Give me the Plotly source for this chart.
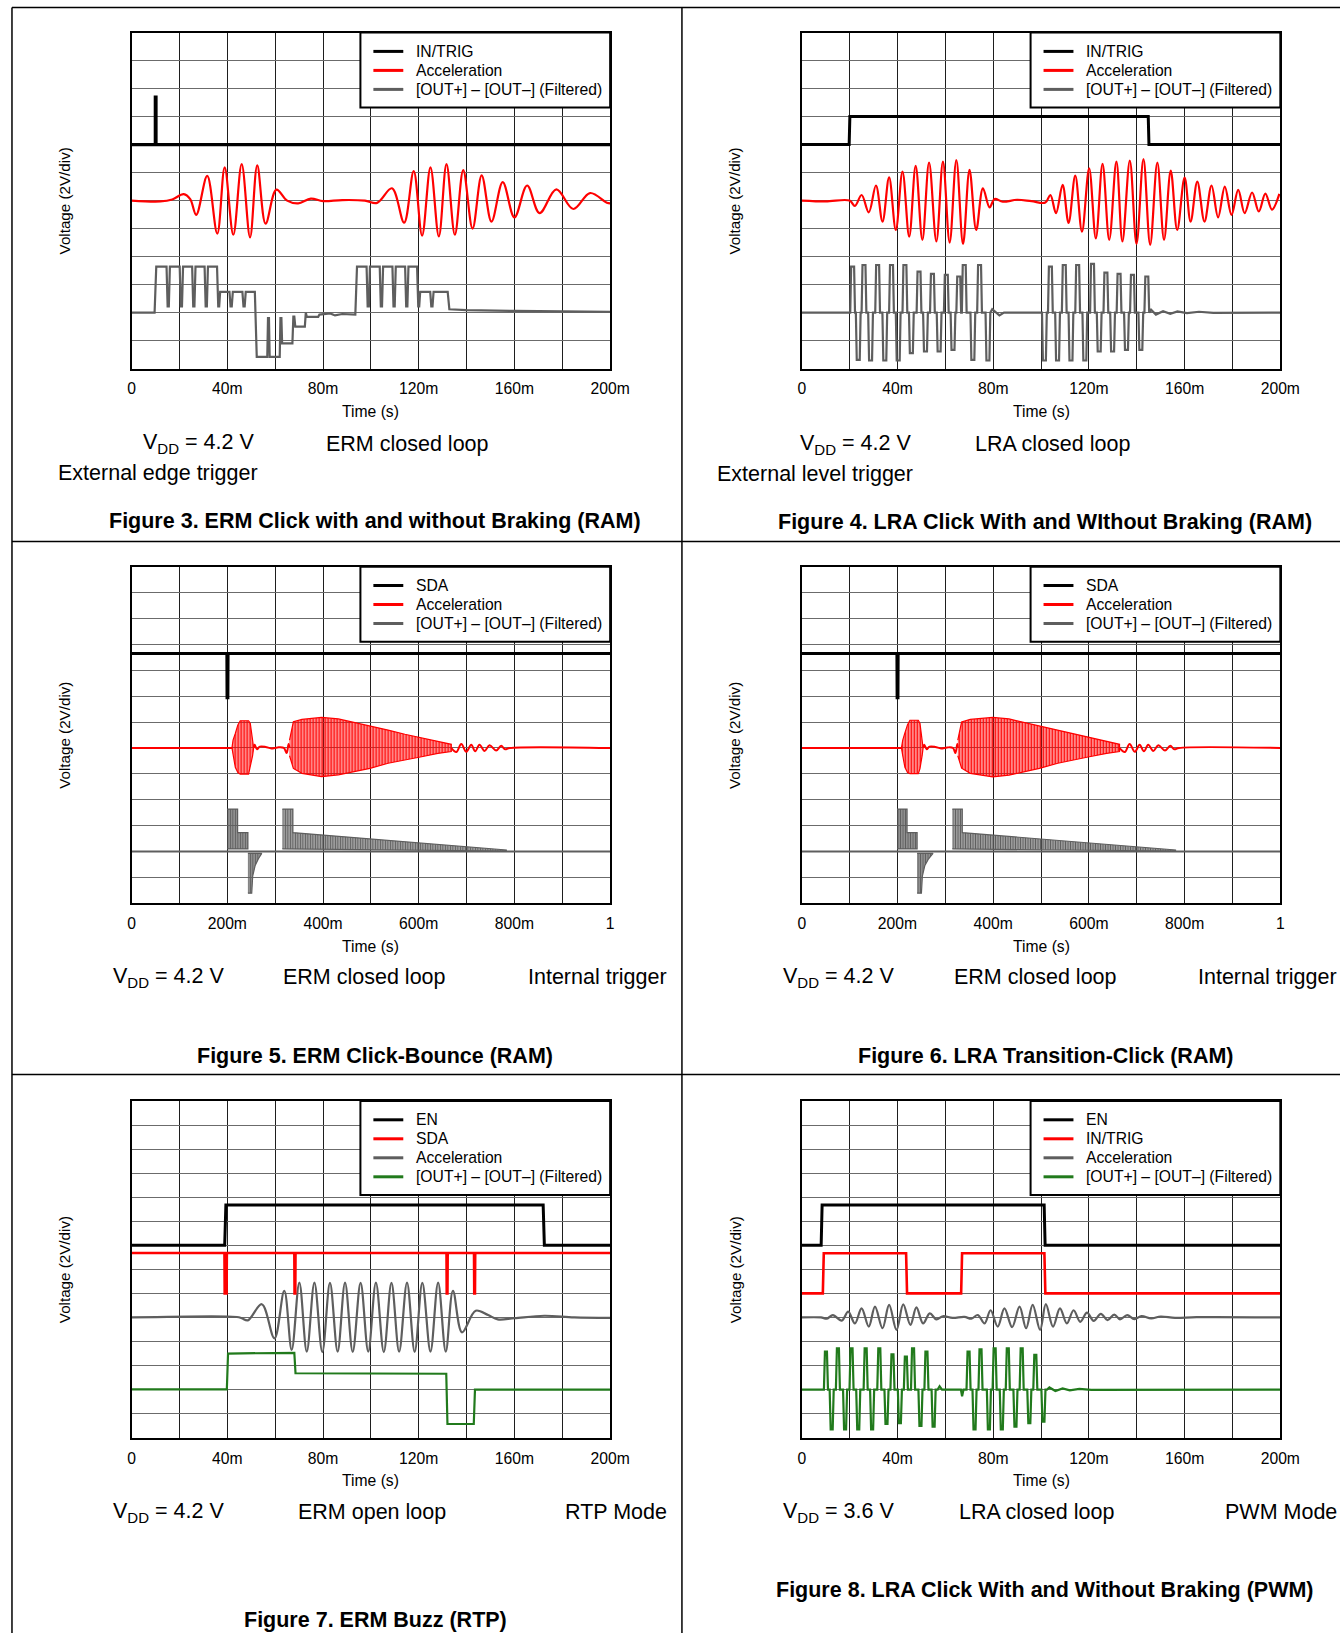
import plotly.graph_objects as go

W, H = 1340, 1633
# measured horizontal frame of the photographed page: drawn x = 1.5 + 0.985 * paper_px
X_OFF, X_SPAN = 1.5, 1320.0
FONT = "Liberation Sans, Arial, Helvetica, sans-serif"
BLACK, RED, GRAY, GREEN = "#000000", "#ff0000", "#5e5e5e", "#217a1c"

# ---------------- tick labels ----------------
ms200_tickvals = [0, 20, 40, 60, 80, 100, 120, 140, 160, 180, 200]
ms200_ticktext = ["0", "", "40m", "", "80m", "", "120m", "", "160m", "", "200m"]
s1_tickvals = [0, 100, 200, 300, 400, 500, 600, 700, 800, 900, 1000]
s1_ticktext = ["0", "", "200m", "", "400m", "", "600m", "", "800m", "", "1"]

# ---------------- Figure 3 (time in ms, level in divisions) ----------------
f3_trig_t = [0, 9.9, 9.9, 10.2, 10.2, 200]
f3_trig_v = [8.0, 8.0, 9.7, 9.7, 8.0, 8.0]
f3_acc_t = [0, 12, 17, 21.8, 24.5, 27, 31.6, 35.8, 38.9, 42.5, 46, 49.5, 52.5, 56, 60.5, 65, 69.6, 74.9,
            80, 88, 97.5, 102.6, 108.8, 113.9, 117.9, 121.4, 124.9, 128.4, 131.6, 135.1, 138.6, 142.5,
            146.3, 150.4, 155.1, 160, 165.3, 170.5, 177.5, 184.6, 191.6, 198.6, 200]
f3_acc_v = [6.0, 5.97, 6.04, 6.23, 6.05, 5.49, 6.88, 4.82, 7.19, 4.78, 7.3, 4.69, 7.26, 5.18, 6.39, 6.0, 5.9, 6.07,
            5.98, 6.02, 6.0, 5.92, 6.44, 5.21, 7.05, 4.75, 7.19, 4.72, 7.3, 4.78, 7.09, 5.0,
            6.9, 5.25, 6.66, 5.4, 6.54, 5.55, 6.4, 5.7, 6.27, 5.92, 5.9]
f3_out_t = [0, 9.6, 10.3,
            14.6, 15.05, 15.55, 16.0, 20.1, 20.55, 21.05, 21.5, 25.3, 25.75, 26.25, 26.7, 30.5, 30.95, 31.45, 31.9,
            35.7, 36.2, 36.6, 37.0, 40.9, 41.35, 41.85, 42.3, 46.3, 46.75, 47.25, 47.7,
            51.5, 52.3, 56.7, 57.0, 57.4, 57.7, 61.9, 62.2, 62.6, 62.9, 67.2, 67.6, 68.0, 68.4,
            72.4, 72.8, 73.2, 78.0, 78.5, 83.0, 85.0, 88.0, 93.5, 94.2,
            98.2, 98.65, 99.15, 99.6, 103.7, 104.15, 104.65, 105.1, 109.0, 109.45, 109.95, 110.4,
            114.3, 114.75, 115.25, 115.7, 119.3, 119.8, 120.2, 120.6, 124.8, 125.25, 125.75, 126.2,
            132.1, 132.8, 140.0, 160.0, 200.0]
f3_out_v = [2.0, 2.0, 3.64,
            3.64, 2.22, 2.22, 3.64, 3.64, 2.22, 2.22, 3.64, 3.64, 2.22, 2.22, 3.64, 3.64, 2.22, 2.22, 3.64,
            3.64, 2.22, 2.22, 2.74, 2.74, 2.22, 2.22, 2.74, 2.74, 2.22, 2.22, 2.74,
            2.74, 0.42, 0.42, 1.8, 1.8, 0.42, 0.42, 1.8, 1.8, 0.9, 0.9, 1.86, 1.86, 1.5,
            1.5, 2.0, 1.85, 1.85, 1.93, 1.97, 1.9, 1.95, 1.93, 3.64,
            3.64, 2.22, 2.22, 3.64, 3.64, 2.22, 2.22, 3.64, 3.64, 2.22, 2.22, 3.64,
            3.64, 2.22, 2.22, 3.64, 3.64, 2.22, 2.22, 2.74, 2.74, 2.22, 2.22, 2.74,
            2.74, 2.12, 2.09, 2.06, 2.03]

# ---------------- Figure 4 ----------------
f4_trig_t = [0, 19.8, 20.1, 144.8, 145.1, 200]
f4_trig_v = [8.0, 8.0, 9.0, 9.0, 8.0, 8.0]
f4_acc_t = [0, 10, 20, 22.2, 25, 28, 31, 33.75, 36.5, 39.3, 42.1, 44.9, 47.6, 50.4, 53.2, 56.25, 59, 61.8,
            64.6, 67.4, 70.1, 72.9, 75.7, 78.5, 80.6, 84, 90, 96, 101.8, 103.9, 106.25, 109, 111.5, 114.3,
            117.1, 120.1, 122.9, 125.7, 128.5, 131.5, 134, 137.1, 139.9, 142.8, 145.6, 148.6, 151.4, 154.2,
            156.9, 160, 162.5, 165.3, 168.3, 171.25, 174, 176.8, 179.6, 182.4, 185.1, 188.2, 191, 193.75,
            196.5, 199.6]
f4_acc_v = [6.0, 5.97, 6.0, 5.81, 6.2, 5.58, 6.54, 5.25, 6.83, 4.95, 7.04, 4.71, 7.24, 4.6, 7.36, 4.54, 7.39, 4.5,
            7.45, 4.45, 7.1, 4.95, 6.44, 5.76, 6.06, 5.96, 6.03, 5.98, 5.93, 6.2, 5.55, 6.56, 5.2, 6.89,
            4.89, 7.15, 4.65, 7.31, 4.6, 7.39, 4.54, 7.43, 4.45, 7.48, 4.42, 7.36, 4.6, 7.07,
            4.95, 6.82, 5.25, 6.68, 5.25, 6.54, 5.4, 6.5, 5.49, 6.38, 5.55, 6.29, 5.61, 6.25,
            5.68, 6.24]
f4_out_base_t = [0, 79.6, 82.6, 84.5, 100.3, 146, 148, 151, 154, 157, 161, 166, 172, 200]
f4_out_base_v = [2.0, 2.12, 1.9, 2.0, 2.0, 2.1, 1.93, 2.05, 1.96, 2.04, 1.98, 2.03, 1.99, 2.0]
f4_out_pulse_t = [21.25, 23.6, 26.0, 28.75, 31.7, 34.7, 37.5, 40.3, 43.1, 45.8, 49.0, 51.7, 54.6, 57.4, 60.4,
                  63.2, 65.6, 67.9, 71.5, 74.3, 77.8,
                  101.4, 103.9, 106.9, 109.7, 112.5, 115.3, 118.3, 121.5, 124.3, 127.1, 129.9, 132.6, 135.7,
                  138.2, 141.7, 144.2]
f4_out_pulse_v = [3.64, 0.31, 3.7, 0.29, 3.7, 0.29, 3.7, 0.29, 3.7, 0.55, 3.46, 0.61, 3.38, 0.61, 3.35,
                  0.67, 3.29, 3.7, 0.31, 3.7, 0.29,
                  0.29, 3.64, 0.29, 3.7, 0.29, 3.7, 0.29, 3.74, 0.61, 3.43, 0.61, 3.38, 0.67,
                  3.35, 0.67, 3.29]

# ---------------- Figure 5 ----------------
f5_sda_t = [0, 199.0, 199.4, 201.2, 201.6, 1000]
f5_sda_v = [9.65, 9.65, 7.94, 7.94, 9.65, 9.65]
f5_acc_t = [0, 209.7, None, 255, 257, 262, 268, 280, 292, 305, 318, 324, 328, 330, None,
            668, 678.5, 688.9, 699.3, 709.7, 718, 727, 737.5, 747.9, 761.8, 772.2, 780.6, 790, 1000]
f5_acc_v = [6.0, 6.0, None, 6.0, 6.12, 5.95, 6.05, 6.04, 5.98, 6.02, 6.0, 5.8, 6.15, 6.0, None,
            6.0, 5.84, 6.15, 5.85, 6.12, 5.87, 6.12, 5.88, 6.1, 5.9, 6.08, 5.95, 6.0, 6.0]
f5_burst1_t = [209.7, 212, 216.7, 222, 227, 244.4, 248, 252.8, 255]
f5_burst1_top = [6.0, 6.3, 6.56, 6.89, 7.05, 7.05, 6.95, 6.24, 6.0]
f5_burst1_bot = [6.0, 5.7, 5.25, 5.05, 4.99, 4.99, 5.2, 5.7, 6.0]
f5_burst2_t = [330, 338, 356, 397, 432, 467, 498, 536, 571, 606, 640, 668]
f5_burst2_top = [6.3, 7.01, 7.1, 7.18, 7.12, 6.98, 6.86, 6.69, 6.53, 6.4, 6.27, 6.14]
f5_burst2_bot = [5.7, 5.21, 5.02, 4.89, 4.96, 5.08, 5.21, 5.41, 5.53, 5.66, 5.79, 5.86]
f5_out_t = [0, 1000]
f5_out_v = [2.0, 2.0]
f5_outa_t = [200, 221.5, 221.5, 243]
f5_outa_top = [3.64, 3.64, 2.73, 2.73]
f5_outa_bot = [2.1, 2.1, 2.1, 2.1]
f5_outb_t = [243, 251, 253, 258, 265, 272]
f5_outb_top = [1.93, 1.93, 1.93, 1.93, 1.93, 1.93]
f5_outb_bot = [0.39, 0.39, 1.05, 1.45, 1.72, 1.93]
f5_outc_t = [315, 337, 337, 783]
f5_outc_top = [3.64, 3.64, 2.73, 2.06]
f5_outc_bot = [2.1, 2.1, 2.1, 2.02]

# ---------------- Figure 6 ----------------
f6_sda_t = [0, 198.8, 199.2, 201.0, 201.4, 1000]
f6_sda_v = [9.65, 9.65, 7.94, 7.94, 9.65, 9.65]
f6_acc_t = [0, 208.3, None, 253.5, 256, 261, 267, 279, 291, 304, 316, 321, 325, 326, None,
            664, 675, 685, 696, 706, 715, 724, 734.5, 745, 759, 770, 778.6, 788, 1000]
f6_acc_v = [6.0, 6.0, None, 6.0, 6.12, 5.95, 6.05, 6.04, 5.98, 6.02, 6.0, 5.8, 6.15, 6.0, None,
            6.0, 5.84, 6.15, 5.85, 6.12, 5.87, 6.12, 5.88, 6.1, 5.9, 6.08, 5.95, 6.0, 6.0]
f6_burst1_t = [208.3, 211, 215.5, 221, 226, 243.5, 247, 251.5, 253.5]
f6_burst1_top = [6.0, 6.3, 6.58, 6.9, 7.07, 7.07, 6.95, 6.25, 6.0]
f6_burst1_bot = [6.0, 5.7, 5.25, 5.05, 5.01, 5.01, 5.2, 5.7, 6.0]
f6_burst2_t = [326, 334, 352, 399, 433, 466, 496.5, 535, 570, 601, 637, 664]
f6_burst2_top = [6.3, 7.0, 7.1, 7.18, 7.12, 6.98, 6.86, 6.69, 6.53, 6.4, 6.27, 6.14]
f6_burst2_bot = [5.7, 5.22, 5.02, 4.88, 4.95, 5.08, 5.21, 5.41, 5.53, 5.66, 5.79, 5.86]
f6_out_t = [0, 1000]
f6_out_v = [2.0, 2.0]
f6_outa_t = [199.3, 220, 220, 241]
f6_outa_top = [3.64, 3.64, 2.73, 2.73]
f6_outa_bot = [2.1, 2.1, 2.1, 2.1]
f6_outb_t = [241, 250, 252, 257, 265, 274.3]
f6_outb_top = [1.93, 1.93, 1.93, 1.93, 1.93, 1.93]
f6_outb_bot = [0.39, 0.39, 1.05, 1.45, 1.72, 1.93]
f6_outc_t = [314.6, 335.4, 335.4, 781]
f6_outc_top = [3.64, 3.64, 2.73, 2.06]
f6_outc_bot = [2.1, 2.1, 2.1, 2.02]

# ---------------- Figure 7 ----------------
f7_en_t = [0, 38.9, 39.4, 172.0, 172.5, 200]
f7_en_v = [8.0, 8.0, 9.68, 9.68, 8.0, 8.0]
f7_sda_t = [0, 38.8, 38.9, 39.7, 39.8, 68.0, 68.1, 68.4, 68.5, 131.6, 131.7, 132.0, 132.1,
            143.1, 143.2, 143.5, 143.6, 200]
f7_sda_v = [7.68, 7.68, 6.0, 6.0, 7.68, 7.68, 6.0, 6.0, 7.68, 7.68, 6.0, 6.0, 7.68,
            7.68, 6.0, 6.0, 7.68, 7.68]
f7_acc_t = [0, 44, 46, 48.6, 54.4, 59.7, 63.8, 66.9, 70.1, 73.2, 76.4, 79.7, 82.9, 86.1, 89.2, 92.4, 95.7,
            98.9, 102.1, 105.4, 108.6, 111.8, 115.1, 118.3, 121.5, 124.9, 128.1, 131.3, 134.3, 138.1,
            143.8, 149, 153, 160, 172.5, 185, 200]
f7_acc_v = [5.0, 5.02, 4.97, 4.88, 5.55, 4.13, 6.11, 3.65, 6.45, 3.58, 6.45, 3.56, 6.44, 3.58, 6.45, 3.57, 6.44,
            3.58, 6.45, 3.56, 6.44, 3.58, 6.45, 3.57, 6.44, 3.58, 6.45, 3.58, 6.11, 4.38,
            5.28, 5.1, 4.92, 4.97, 5.07, 5.0, 4.98]
f7_out_t = [0, 39.8, 40.3, 68.0, 68.5, 131.5, 132.0, 143.0, 143.5, 200]
f7_out_v = [2.01, 2.01, 3.5, 3.53, 2.68, 2.66, 0.57, 0.57, 2.0, 2.0]

# ---------------- Figure 8 ----------------
f8_en_t = [0, 8.1, 8.5, 101.3, 101.7, 200]
f8_en_v = [8.0, 8.0, 9.68, 9.68, 8.0, 8.0]
f8_trig_t = [0, 8.8, 9.2, 43.6, 44.0, 66.6, 67.0, 101.4, 101.8, 200]
f8_trig_v = [6.0, 6.0, 7.67, 7.67, 6.0, 6.0, 7.67, 7.67, 6.0, 6.0]
f8_acc_t = [0, 8, 10.5, 13, 16.7, 19.4, 22.2, 25, 28, 30.6, 33.75, 36.5, 39.6, 42.4, 45.4, 47.9, 50.7, 53.5,
            56.25, 59, 63, 68, 70.9, 73.6, 76.4, 78.9, 81.9, 84.7, 87.9, 91, 93.75, 96.5, 99.6, 102, 105,
            107.9, 110.8, 113.6, 116.4, 119.2, 122, 125, 127.8, 130.6, 133, 136, 139, 142, 146, 150, 156,
            165, 200]
f8_acc_v = [5.0, 5.0, 4.95, 5.1, 4.87, 5.24, 4.75, 5.38, 4.62, 5.45, 4.55, 5.52, 4.48, 5.54, 4.69, 5.42, 4.75, 5.17,
            4.92, 5.05, 4.98, 5.02, 4.95, 5.1, 4.75, 5.3, 4.62, 5.38, 4.6, 5.45, 4.55, 5.52, 4.48, 5.55, 4.62,
            5.38, 4.75, 5.3, 4.82, 5.2, 4.86, 5.15, 4.89, 5.12, 4.92, 5.1, 4.93, 5.06, 4.96, 5.04, 4.98,
            5.01, 5.0]
f8_out_base_t = [0, 56.8, 57.6, 58.6, 66.5, 67.0, 67.6, 102.5, 103.5, 106, 109, 112, 116, 121, 200]
f8_out_base_v = [2.0, 2.0, 2.14, 2.0, 2.0, 1.72, 2.0, 2.0, 2.09, 1.94, 2.05, 1.97, 2.03, 1.99, 2.0]
f8_out_pulse_t = [10.1, 12.5, 15.1, 18.1, 20.8, 23.6, 26.7, 29.4, 32.4, 35.4, 37.9, 41.0, 43.5, 46.5, 49.6,
                  52.1, 55.1,
                  69.7, 72.2, 74.7, 78.2, 80.6, 83.6, 86.1, 89.3, 91.9, 95.1, 97.6, 101.0]
f8_out_pulse_v = [3.58, 0.35, 3.72, 0.35, 3.72, 0.35, 3.72, 0.35, 3.72, 0.57, 3.47, 0.6, 3.37, 3.72, 0.49,
                  3.58, 0.46,
                  3.58, 0.35, 3.67, 0.35, 3.72, 0.35, 3.72, 0.46, 3.72, 0.6, 3.44, 0.67]

# ---------------- text ----------------
leg_f3 = ["IN/TRIG", "Acceleration", "[OUT+] – [OUT–] (Filtered)"]
leg_f5 = ["SDA", "Acceleration", "[OUT+] – [OUT–] (Filtered)"]
leg_f7 = ["EN", "SDA", "Acceleration", "[OUT+] – [OUT–] (Filtered)"]
leg_f8 = ["EN", "IN/TRIG", "Acceleration", "[OUT+] – [OUT–] (Filtered)"]

NOTE_SIZE = 21.5
CAP_SIZE = 21.5
SMALL = 15.7
NOTE_SHIFT = -3.6   # left-anchored annotation boxes carry a little inner padding
LEG_SHIFT = -2.0


def X(px):
    return (px - X_OFF) / X_SPAN


def Y(py):
    return 1 - py / H


def pulse_path(base_t, base_v, pulse_t, pulse_v, base_level, hw_top, hw_base):
    pts = list(zip(base_t, base_v))
    for c, v in zip(pulse_t, pulse_v):
        pts += [(c - hw_base, base_level), (c - hw_top, v), (c + hw_top, v), (c + hw_base, base_level)]
    pts.sort(key=lambda p: p[0])
    return [p[0] for p in pts], [p[1] for p in pts]


fig = go.Figure()
shapes, annos = [], []
COLX = [(129.5, 609.5), (801.7, 1281.7)]
ROWY = [(32.6, 368.6), (566.7, 903.3), (1101.0, 1437.7)]
layout_axes = {}


def setup_axes(n, col, row, xmax, tv, tt, ymax):
    x0, x1 = COLX[col]
    y0, y1 = ROWY[row]
    sx = "" if n == 1 else str(n)
    layout_axes["xaxis" + sx] = dict(
        domain=[X(x0), X(x1)], range=[0, xmax], anchor="y" + sx, tickmode="array", tickvals=tv, ticktext=tt,
        showgrid=True, gridcolor="#1e1e1e", gridwidth=1, zeroline=False, showline=True, mirror=True,
        linecolor="black", linewidth=2, ticks="", ticklabelstandoff=5,
        tickfont=dict(family=FONT, size=SMALL, color="black"), fixedrange=True)
    layout_axes["yaxis" + sx] = dict(
        domain=[Y(y1), Y(y0)], range=[0, ymax], anchor="x" + sx, tickmode="linear", tick0=0, dtick=1,
        showticklabels=False, showgrid=True, gridcolor="#6b6b6b", gridwidth=1.3, zeroline=False,
        showline=True, mirror=True, linecolor="black", linewidth=2, ticks="", fixedrange=True)
    annos.append(dict(text="Time (s)", x=X((x0 + x1) / 2), y=Y(y1 + 43), xref="paper", yref="paper",
                      xanchor="center", yanchor="middle", showarrow=False,
                      font=dict(family=FONT, size=SMALL, color="black")))
    annos.append(dict(text="Voltage (2V/div)", x=X(x0 - 67), y=Y((y0 + y1) / 2), xref="paper", yref="paper",
                      xanchor="center", yanchor="middle", showarrow=False, textangle=-90,
                      font=dict(family=FONT, size=15.2, color="black")))
    return "x" + sx, "y" + sx


def line(ax, t, v, color, width=2.0, shape="linear"):
    fig.add_trace(go.Scatter(x=t, y=v, mode="lines", xaxis=ax[0], yaxis=ax[1], hoverinfo="skip",
                             line=dict(color=color, width=width, shape=shape, smoothing=1.0),
                             showlegend=False))


def band(ax, t, top, bot, color, size=3, solidity=0.6):
    fig.add_trace(go.Scatter(x=list(t) + list(t)[::-1], y=list(top) + list(bot)[::-1], mode="lines",
                             xaxis=ax[0], yaxis=ax[1], fill="toself", fillcolor="rgba(0,0,0,0)",
                             fillpattern=dict(shape="|", size=size, solidity=solidity, fgcolor=color,
                                              bgcolor="rgba(0,0,0,0)", fillmode="replace"),
                             line=dict(color=color, width=1.2), hoverinfo="skip", showlegend=False))


def legend(col, row, names, colors):
    xr = COLX[col][1]
    yt = ROWY[row][0]
    h = 19 * len(names) + 18
    shapes.append(dict(type="rect", xref="paper", yref="paper", x0=X(xr - 250.5), x1=X(xr), y0=Y(yt + h),
                       y1=Y(yt), line=dict(color="black", width=2), fillcolor="white", layer="above"))
    for i, (nm, c) in enumerate(zip(names, colors)):
        yy = yt + 18.8 + 19 * i
        shapes.append(dict(type="line", xref="paper", yref="paper", x0=X(xr - 237.5), x1=X(xr - 207.5),
                           y0=Y(yy), y1=Y(yy), line=dict(color=c, width=3), layer="above"))
        annos.append(dict(text=nm, x=X(xr - 194.5 + LEG_SHIFT), y=Y(yy), xref="paper", yref="paper",
                          xanchor="left", yanchor="middle", showarrow=False,
                          font=dict(family=FONT, size=SMALL, color="black")))


def note(text, xl, yc):
    annos.append(dict(text=text, x=X(xl + NOTE_SHIFT), y=Y(yc), xref="paper", yref="paper", xanchor="left",
                      yanchor="middle", showarrow=False, font=dict(family=FONT, size=NOTE_SIZE, color="black")))


def caption(text, xc, yc):
    annos.append(dict(text="<b>" + text + "</b>", x=X(xc), y=Y(yc), xref="paper", yref="paper",
                      xanchor="center", yanchor="middle", showarrow=False,
                      font=dict(family=FONT, size=CAP_SIZE, color="black")))


VDD42 = "V<sub>DD</sub> = 4.2 V"

# ---- Figure 3 ----
a = setup_axes(1, 0, 0, 200, ms200_tickvals, ms200_ticktext, 12)
line(a, f3_out_t, f3_out_v, GRAY, 2.2)
line(a, f3_acc_t, f3_acc_v, RED, 2.2, "spline")
line(a, f3_trig_t, f3_trig_v, BLACK, 3.2)
legend(0, 0, leg_f3, [BLACK, RED, GRAY])
note(VDD42, 142.6, 443.5)
note("ERM closed loop", 325.9, 443.5)
note("External edge trigger", 57.3, 473.2)
caption("Figure 3. ERM Click with and without Braking (RAM)", 373.5, 520.6)

# ---- Figure 4 ----
a = setup_axes(2, 1, 0, 200, ms200_tickvals, ms200_ticktext, 12)
t4, v4 = pulse_path(f4_out_base_t, f4_out_base_v, f4_out_pulse_t, f4_out_pulse_v, 2.0, 0.62, 1.0)
line(a, t4, v4, GRAY, 2.2)
line(a, f4_acc_t, f4_acc_v, RED, 2.2, "spline")
line(a, f4_trig_t, f4_trig_v, BLACK, 3)
legend(1, 0, leg_f3, [BLACK, RED, GRAY])
note(VDD42, 801.7, 444)
note("LRA closed loop", 976.6, 444)
note("External level trigger", 718.4, 473.8)
caption("Figure 4. LRA Click With and WIthout Braking (RAM)", 1046, 521.5)

# ---- Figure 5 ----
a = setup_axes(3, 0, 1, 1000, s1_tickvals, s1_ticktext, 13)
line(a, f5_out_t, f5_out_v, GRAY, 2)
band(a, f5_outa_t, f5_outa_top, f5_outa_bot, GRAY, 2.5, 0.8)
band(a, f5_outb_t, f5_outb_top, f5_outb_bot, GRAY, 2.5, 0.8)
band(a, f5_outc_t, f5_outc_top, f5_outc_bot, GRAY, 2.5, 0.75)
band(a, f5_burst1_t, f5_burst1_top, f5_burst1_bot, RED, 3, 0.65)
band(a, f5_burst2_t, f5_burst2_top, f5_burst2_bot, RED, 3, 0.65)
line(a, f5_acc_t, f5_acc_v, RED, 2, "spline")
line(a, f5_sda_t, f5_sda_v, BLACK, 3)
legend(0, 1, leg_f5, [BLACK, RED, GRAY])
note(VDD42, 112.4, 977.2)
note("ERM closed loop", 283.2, 977.2)
note("Internal trigger", 528.9, 977.2)
caption("Figure 5. ERM Click-Bounce (RAM)", 374, 1055.8)

# ---- Figure 6 ----
a = setup_axes(4, 1, 1, 1000, s1_tickvals, s1_ticktext, 13)
line(a, f6_out_t, f6_out_v, GRAY, 2)
band(a, f6_outa_t, f6_outa_top, f6_outa_bot, GRAY, 2.5, 0.8)
band(a, f6_outb_t, f6_outb_top, f6_outb_bot, GRAY, 2.5, 0.8)
band(a, f6_outc_t, f6_outc_top, f6_outc_bot, GRAY, 2.5, 0.75)
band(a, f6_burst1_t, f6_burst1_top, f6_burst1_bot, RED, 3, 0.65)
band(a, f6_burst2_t, f6_burst2_top, f6_burst2_bot, RED, 3, 0.65)
line(a, f6_acc_t, f6_acc_v, RED, 2, "spline")
line(a, f6_sda_t, f6_sda_v, BLACK, 3)
legend(1, 1, leg_f5, [BLACK, RED, GRAY])
note(VDD42, 784, 977.2)
note("ERM closed loop", 955.8, 977.2)
note("Internal trigger", 1200.5, 977.2)
caption("Figure 6. LRA Transition-Click (RAM)", 1046, 1055.8)

# ---- Figure 7 ----
a = setup_axes(5, 0, 2, 200, ms200_tickvals, ms200_ticktext, 14)
line(a, f7_out_t, f7_out_v, GREEN, 2.2)
line(a, f7_acc_t, f7_acc_v, GRAY, 2.2, "spline")
line(a, f7_sda_t, f7_sda_v, RED, 2.6)
line(a, f7_en_t, f7_en_v, BLACK, 3)
legend(0, 2, leg_f7, [BLACK, RED, GRAY, GREEN])
note(VDD42, 112.4, 1512.3)
note("ERM open loop", 297.8, 1512.3)
note("RTP Mode", 565.4, 1512.3)
caption("Figure 7. ERM Buzz (RTP)", 374, 1620)

# ---- Figure 8 ----
a = setup_axes(6, 1, 2, 200, ms200_tickvals, ms200_ticktext, 14)
t8, v8 = pulse_path(f8_out_base_t, f8_out_base_v, f8_out_pulse_t, f8_out_pulse_v, 2.0, 0.42, 0.85)
line(a, t8, v8, GREEN, 2.2)
line(a, f8_acc_t, f8_acc_v, GRAY, 2.2, "spline")
line(a, f8_trig_t, f8_trig_v, RED, 2.6)
line(a, f8_en_t, f8_en_v, BLACK, 3)
legend(1, 2, leg_f8, [BLACK, RED, GRAY, GREEN])
note("V<sub>DD</sub> = 3.6 V", 784, 1512.3)
note("LRA closed loop", 961, 1512.3)
note("PWM Mode", 1227.6, 1512.3)
caption("Figure 8. LRA Click With and Without Braking (PWM)", 1046, 1590)

# ---- panel frame lines ----
for (xa, ya, xb, yb) in [(9.5, 7.5, 1345, 7.5), (9.5, 7.5, 9.5, H), (681.5, 7.5, 681.5, H),
                         (9.5, 541.5, 1345, 541.5), (9.5, 1074.5, 1345, 1074.5)]:
    shapes.append(dict(type="line", xref="paper", yref="paper", x0=X(xa), y0=Y(ya), x1=X(xb), y1=Y(yb),
                       line=dict(color="black", width=1.5), layer="above"))

fig.update_layout(width=W, height=H, margin=dict(l=0, r=0, t=0, b=0), paper_bgcolor="white",
                  plot_bgcolor="white", showlegend=False, shapes=shapes, annotations=annos,
                  font=dict(family=FONT, color="black"), **layout_axes)

fig.write_html("out.html", config={"displayModeBar": False, "responsive": False},
               post_script="document.body.style.margin='0px';"
                           "document.body.style.overflow='hidden';"
                           "document.documentElement.style.overflow='hidden';")
